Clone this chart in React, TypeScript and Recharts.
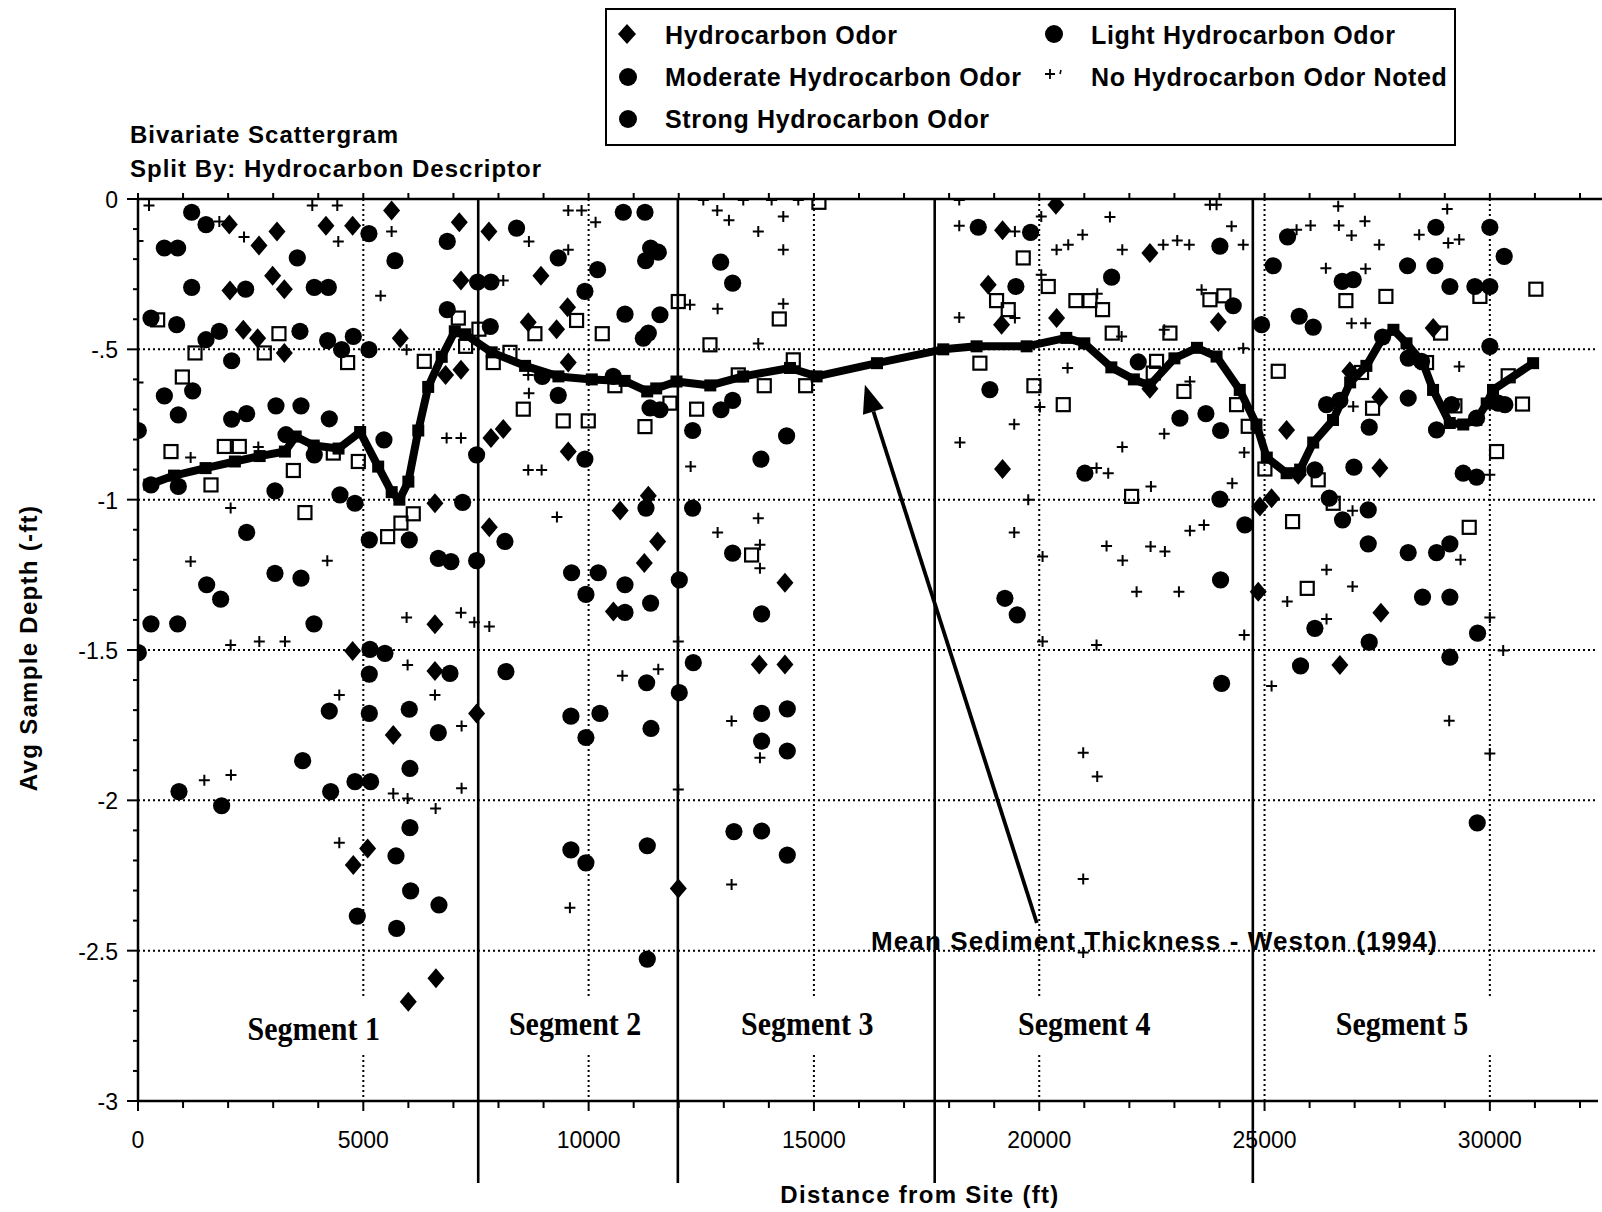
import React from "react";
import {
  ComposedChart,
  Scatter,
  Line,
  XAxis,
  YAxis,
  ReferenceLine,
} from "recharts";

const W = 1602;
const H = 1212;
const X_MAX = 32400;

// ---------- DATA ----------
const hydrocarbonOdor: [number, number][] = [
  [5628, -0.038], [2026, -0.085], [4171, -0.089], [4763, -0.089], [3084, -0.108], [2685, -0.155],
  [7130, -0.077], [7788, -0.108], [2988, -0.255], [3247, -0.3], [2041, -0.304], [7167, -0.271],
  [8942, -0.255], [9533, -0.36], [8660, -0.41], [9289, -0.433], [2337, -0.435], [2655, -0.463],
  [3247, -0.512], [5821, -0.463], [6826, -0.585], [7167, -0.568], [9548, -0.544], [7833, -0.795],
  [8106, -0.765], [9548, -0.84], [6590, -1.012], [7796, -1.092], [10700, -1.036], [6590, -1.414],
  [10550, -1.372], [11325, -0.987], [11532, -1.139], [11236, -1.211], [14357, -1.276],
  [19186, -0.104], [20370, -0.019], [18868, -0.285], [19164, -0.418], [20385, -0.396], [19186, -0.898],
  [4763, -1.503], [6590, -1.57], [7514, -1.711], [5665, -1.783], [5096, -2.16], [4778, -2.215],
  [6612, -2.592], [5998, -2.67], [13787, -1.548], [14357, -1.548], [11990, -2.293],
  [22456, -0.18], [23973, -0.409], [22456, -0.631], [28743, -0.429], [25489, -0.768], [27559, -0.659],
  [27559, -0.895], [26894, -0.573], [25748, -0.917], [25156, -0.995], [24897, -1.023], [24860, -1.306],
  [27582, -1.376], [26672, -1.55],
];

const lightOdor: [number, number][] = [
  [1191, -0.044], [1509, -0.085], [584, -0.163], [880, -0.163], [3535, -0.196], [5125, -0.115],
  [5702, -0.205], [6863, -0.141], [8401, -0.097], [9326, -0.196], [10199, -0.235],
  [1191, -0.294], [2389, -0.3], [3912, -0.294], [4223, -0.294], [7537, -0.276], [7833, -0.276], [9918, -0.307],
  [288, -0.396], [858, -0.418], [1509, -0.468], [1805, -0.44], [3594, -0.44], [4208, -0.471], [4519, -0.501],
  [4778, -0.457], [5125, -0.501], [2078, -0.538], [6863, -0.368], [7818, -0.424], [8972, -0.59], [9326, -0.653],
  [10546, -0.59], [585, -0.655], [1213, -0.638], [895, -0.718], [2078, -0.732], [2411, -0.714], [3062, -0.688],
  [3617, -0.688], [4245, -0.731],
  [10770, -0.044], [11251, -0.044], [11376, -0.163], [11546, -0.177], [11265, -0.205], [12929, -0.21],
  [13196, -0.28], [10807, -0.383], [11583, -0.385], [11325, -0.446], [11214, -0.463], [11362, -0.695],
  [11583, -0.701], [12937, -0.701], [13196, -0.67],
  [18647, -0.094], [19808, -0.111], [19482, -0.291], [21606, -0.26], [18905, -0.634],
  [24009, -0.157], [24305, -0.355], [24934, -0.418], [25193, -0.222], [25511, -0.126], [25770, -0.39],
  [26080, -0.426], [26724, -0.274], [26968, -0.268], [28173, -0.222], [28780, -0.222], [28802, -0.094],
  [30000, -0.094], [30318, -0.191], [29113, -0.291], [29668, -0.291], [30000, -0.291], [30000, -0.49],
  [22197, -0.542], [23122, -0.729], [23699, -0.714], [26376, -0.684], [26672, -0.67], [27619, -0.459],
  [28188, -0.529], [28484, -0.54], [28188, -0.662], [29150, -0.684], [29705, -0.729], [30185, -0.679],
  [30333, -0.684],
];

const moderateOdor: [number, number][] = [
  [7, -0.77], [3284, -0.784], [3912, -0.851], [5458, -0.801], [7514, -0.851], [9918, -0.865],
  [288, -0.951], [895, -0.956], [3040, -0.971], [4482, -0.984], [4815, -1.012], [7204, -1.009],
  [2411, -1.109], [5133, -1.134], [6020, -1.134], [6664, -1.195], [6945, -1.206], [7514, -1.203],
  [8143, -1.139], [3040, -1.245], [3617, -1.261], [1524, -1.283], [1834, -1.331], [9622, -1.243],
  [10214, -1.243], [9940, -1.315], [288, -1.413], [880, -1.413], [3905, -1.413],
  [12308, -0.77], [14394, -0.788], [13824, -0.865], [11273, -1.028], [12308, -1.028], [13196, -1.178],
  [10807, -1.283], [11376, -1.344], [10807, -1.375], [12012, -1.267], [13839, -1.38], [21013, -0.912],
  [19238, -1.328], [19512, -1.383],
  [24024, -0.77], [24009, -0.998], [24564, -1.084], [24024, -1.267], [27323, -0.759], [28817, -0.768],
  [26117, -0.901], [26983, -0.892], [26436, -0.995], [26731, -1.067], [27301, -1.034], [29409, -0.912],
  [29705, -0.925], [27301, -1.147], [28188, -1.176], [28817, -1.176], [29113, -1.147], [28506, -1.324],
  [29113, -1.324], [26117, -1.428], [29727, -1.444],
];

const strongOdor: [number, number][] = [
  [7, -1.509], [5148, -1.498], [5480, -1.511], [5133, -1.58], [6923, -1.578], [8165, -1.572],
  [4245, -1.703], [5133, -1.711], [6020, -1.697], [6664, -1.775], [9607, -1.72], [10251, -1.711],
  [9940, -1.791], [3654, -1.868], [6035, -1.894], [4815, -1.938], [5162, -1.938], [4275, -1.971],
  [910, -1.971], [1856, -2.018], [6035, -2.091], [5725, -2.185], [6050, -2.301], [6679, -2.348],
  [4867, -2.385], [5739, -2.426], [9607, -2.165], [9940, -2.208],
  [12323, -1.542], [11288, -1.609], [12012, -1.642], [11384, -1.761], [13839, -1.711], [14409, -1.696],
  [13839, -1.803], [14409, -1.836], [13225, -2.104], [13839, -2.102], [14409, -2.182], [11302, -2.151],
  [11302, -2.528],
  [27323, -1.474], [24047, -1.611], [25799, -1.553], [29113, -1.524], [29720, -2.075],
];

const noOdor: [number, number][] = [
  [244, -0.022], [3868, -0.022], [4423, -0.022], [1805, -0.075], [2353, -0.126], [4445, -0.141],
  [5628, -0.108], [5384, -0.322], [9548, -0.038], [9844, -0.038], [10155, -0.077], [8675, -0.141],
  [9548, -0.169], [8106, -0.271], [5961, -0.501], [1168, -0.86], [2670, -0.825], [8660, -0.585],
  [8675, -0.646], [6849, -0.795], [7167, -0.795], [8660, -0.901], [8957, -0.901], [2056, -1.028],
  [9297, -1.058], [1168, -1.206], [4201, -1.203], [5961, -1.392], [7167, -1.376], [7463, -1.408],
  [7796, -1.422], [2056, -1.483], [2692, -1.472], [3262, -1.472], [0, -0.14], [0, -0.61],
  [12855, -0.038], [13114, -0.071], [14320, -0.058], [13765, -0.108], [14320, -0.169], [12249, -0.352],
  [12863, -0.365], [14320, -0.348], [13765, -0.481], [12264, -0.89], [13765, -1.062], [12863, -1.109],
  [13802, -1.15], [13802, -1.228], [11990, -1.472], [18225, -0.003], [18225, -0.089], [19460, -0.108],
  [20045, -0.058], [20962, -0.119], [20385, -0.169], [20644, -0.152], [20045, -0.252], [18225, -0.394],
  [19460, -0.396], [21287, -0.315], [20629, -0.562], [20015, -0.692], [19445, -0.749], [18240, -0.81],
  [21272, -0.895], [21531, -0.912], [19756, -1.0], [19445, -1.109], [20074, -1.189], [21494, -1.154],
  [20074, -1.472], [21272, -1.483], [12545, -0.003], [13432, -0.003], [14061, -0.003], [14653, -0.003],
  [23788, -0.019], [23935, -0.019], [21569, -0.06], [24268, -0.091], [21843, -0.169], [22752, -0.152],
  [23063, -0.138], [23329, -0.152], [24527, -0.152], [23603, -0.302], [21828, -0.457], [22774, -0.435],
  [23344, -0.607], [24527, -0.496], [22774, -0.781], [21843, -0.825], [24549, -0.843], [22479, -0.956],
  [24283, -0.945], [23344, -1.103], [23655, -1.084], [22471, -1.156], [22789, -1.172], [21850, -1.202],
  [22161, -1.306], [23100, -1.306], [24549, -1.45], [26635, -0.024], [26021, -0.088], [26650, -0.088],
  [26931, -0.121], [27227, -0.074], [25711, -0.102], [29054, -0.033], [28432, -0.119], [29076, -0.146],
  [29320, -0.135], [27545, -0.152], [26361, -0.23], [27242, -0.232], [26931, -0.413], [27242, -0.413],
  [29320, -0.557], [26968, -0.69], [30000, -0.917], [26953, -1.037], [26376, -1.233], [26953, -1.289],
  [25504, -1.339], [26376, -1.397], [29350, -1.2], [30000, -1.392],
  [5983, -1.55], [4467, -1.65], [6590, -1.65], [7181, -1.753], [1472, -1.933], [2063, -1.916],
  [7181, -1.96], [5665, -1.977], [5983, -1.994], [6605, -2.027], [4467, -2.141], [9585, -2.357],
  [10750, -1.586], [11546, -1.564], [13173, -1.736], [13802, -1.858], [11990, -1.964], [13173, -2.28],
  [20976, -1.842], [21287, -1.921], [20976, -2.262], [20976, -2.506],
  [25156, -1.62], [30296, -1.502], [29098, -1.735], [30000, -1.844],
];

const openSquares: [number, number][] = [
  [436, -0.402], [1265, -0.512], [3128, -0.448], [2803, -0.512], [4652, -0.544], [984, -0.592],
  [732, -0.84], [1916, -0.823], [2248, -0.823], [1620, -0.951], [3447, -0.903], [4334, -0.845],
  [4889, -0.873], [3705, -1.043], [5540, -1.123], [5835, -1.078], [6109, -1.047], [6353, -0.54],
  [7108, -0.396], [7566, -0.433], [7270, -0.49], [7884, -0.544], [8254, -0.51], [8808, -0.448],
  [9733, -0.404], [10303, -0.448], [8550, -0.699], [9437, -0.738], [9992, -0.738], [10583, -0.621],
  [11990, -0.341], [12693, -0.485], [14231, -0.399], [15111, -0.011], [11805, -0.679], [12397, -0.699],
  [11251, -0.757], [13321, -0.585], [13898, -0.621], [14542, -0.535], [14816, -0.621], [13617, -1.184],
  [19645, -0.196], [20200, -0.291], [19053, -0.338], [19312, -0.368], [20814, -0.338], [21125, -0.338],
  [21405, -0.368], [18683, -0.546], [19882, -0.621], [20533, -0.684], [21620, -0.446],
  [22900, -0.446], [23788, -0.335], [24098, -0.322], [22604, -0.54], [22530, -0.579], [23211, -0.64],
  [24379, -0.684], [24638, -0.756], [22050, -0.989], [25304, -0.573], [25008, -0.898], [26191, -0.934],
  [26524, -1.012], [25622, -1.073], [26805, -0.338], [27693, -0.324], [28906, -0.446], [29779, -0.324],
  [31021, -0.3], [28595, -0.544], [27153, -0.577], [27397, -0.696], [29224, -0.688], [30407, -0.588],
  [30725, -0.682], [30149, -0.84], [29542, -1.092], [25947, -1.295],
];

const meanX = [
  250, 800, 1500, 2150, 2700, 3260, 3500, 3900, 4450, 4930, 5330, 5630, 5800, 6000, 6220, 6440, 6740,
  7030, 7260, 7850, 8590, 9330, 10070, 10800, 11300, 11500, 11950, 12700, 13430, 14470, 15060, 16400,
  17870, 18610, 19720, 20600, 21000, 21600, 22100, 22450, 23000, 23500, 23935, 24450, 24820, 25050,
  25490, 25790, 26080, 26520, 26900, 27260, 27630, 27860, 28150, 28520, 28740, 29110, 29410, 29700,
  29930, 30070, 30960,
];
const meanY = [
  -0.95, -0.92, -0.895, -0.873, -0.855, -0.84, -0.79, -0.82, -0.83, -0.775, -0.89, -0.975, -1.0, -0.94,
  -0.77, -0.625, -0.525, -0.44, -0.45, -0.51, -0.555, -0.59, -0.6, -0.605, -0.64, -0.63, -0.607, -0.62,
  -0.59, -0.562, -0.59, -0.546, -0.5, -0.49, -0.49, -0.462, -0.48, -0.56, -0.6, -0.62, -0.53, -0.495,
  -0.524, -0.635, -0.75, -0.86, -0.912, -0.9, -0.81, -0.735, -0.61, -0.555, -0.46, -0.435, -0.48, -0.546,
  -0.635, -0.745, -0.75, -0.735, -0.68, -0.635, -0.546,
];

const xTickValues = Array.from({ length: 33 }, (_, i) => i * 1000);
const yTickValues = Array.from({ length: 31 }, (_, i) => -i / 10);
const yTickLabels = ["0", "-.5", "-1", "-1.5", "-2", "-2.5", "-3"];
const hGrid = [-0.5, -1, -1.5, -2, -2.5];
const vGrid = [5000, 10000, 15000, 20000, 25000, 30000];
const segmentBounds = [7550, 11980, 17680, 24740];
const segmentLabels = ["Segment 1", "Segment 2", "Segment 3", "Segment 4", "Segment 5"];
const segmentLabelX = [3900, 9700, 14850, 21000, 28050];
const arrowFrom = { x: 19947, y: -2.408 };
const arrowTo = { x: 16131, y: -0.618 };

const toPts = (a: [number, number][]) => a.map(([x, y]) => ({ x, y }));
const meanData = meanX.map((x, i) => ({ x, y: meanY[i] }));

const SANS = "'Liberation Sans', Arial, Helvetica, sans-serif";
const SERIF = "'Liberation Serif', 'Times New Roman', serif";

// ---------- SHAPES ----------
const DiamondShape = (p: any) => {
  const { cx, cy } = p;
  if (cx == null || cy == null) return <g />;
  return (
    <polygon
      points={`${cx},${cy - 10} ${cx + 8.5},${cy} ${cx},${cy + 10} ${cx - 8.5},${cy}`}
      fill="#000"
    />
  );
};
const CircleShape = (p: any) => {
  const { cx, cy } = p;
  if (cx == null || cy == null) return <g />;
  return <circle cx={cx} cy={cy} r={8.6} fill="#000" />;
};
const CrossShape = (p: any) => {
  const { cx, cy } = p;
  if (cx == null || cy == null) return <g />;
  return (
    <path
      d={`M${cx - 5.5},${cy}H${cx + 5.5}M${cx},${cy - 5.5}V${cy + 5.5}`}
      stroke="#000"
      strokeWidth={2}
      fill="none"
    />
  );
};
const SquareShape = (p: any) => {
  const { cx, cy } = p;
  if (cx == null || cy == null) return <g />;
  return (
    <rect x={cx - 6.5} y={cy - 6.5} width={13} height={13} fill="none" stroke="#000" strokeWidth={2.2} />
  );
};
const MeanDot = (p: any) => {
  const { cx, cy, index } = p;
  if (cx == null || cy == null) return <g key={`md${index}`} />;
  return <rect key={`md${index}`} x={cx - 6} y={cy - 6} width={12} height={12} fill="#000" />;
};

// ---------- AXIS TICKS ----------
const XTick = (p: any) => {
  const { x, y, payload } = p;
  const v = payload.value;
  const major = v % 5000 === 0;
  return (
    <g>
      <line x1={x} y1={y} x2={x} y2={y + (major ? 10 : 7)} stroke="#000" strokeWidth={2} />
      {major && v <= 30000 && (
        <text x={x} y={y + 47} textAnchor="middle" fontSize={23} fontFamily={SANS} fill="#000">
          {v}
        </text>
      )}
    </g>
  );
};
const YTick = (p: any) => {
  const { x, y, payload } = p;
  const v = payload.value;
  const idx = Math.round(-v * 2);
  const major = Math.abs(-v * 2 - idx) < 1e-6;
  return (
    <g>
      <line x1={x - (major ? 11 : 5)} y1={y} x2={x} y2={y} stroke="#000" strokeWidth={2} />
      {major && (
        <text x={x - 20} y={y + 9} textAnchor="end" fontSize={23} fontFamily={SANS} fill="#000">
          {yTickLabels[idx]}
        </text>
      )}
    </g>
  );
};

// ---------- REFERENCE SHAPES ----------
const TopAxisShape = (p: any) => {
  const { x1, x2, y1 } = p;
  const per = (x2 - x1) / X_MAX;
  return (
    <g>
      <line x1={x1} y1={y1} x2={x2 + 4} y2={y1} stroke="#000" strokeWidth={2.5} />
      {xTickValues.map((v) => (
        <line key={v} x1={x1 + v * per} y1={y1} x2={x1 + v * per} y2={y1 - 6} stroke="#000" strokeWidth={2} />
      ))}
    </g>
  );
};
const SegmentLineShape = (p: any) => {
  const { x1, y1, y2 } = p;
  const top = Math.min(y1, y2);
  const bot = Math.max(y1, y2);
  return <line x1={x1} y1={top} x2={x1} y2={bot + 82} stroke="#000" strokeWidth={2.6} />;
};
const makeVGridShape = (gap: boolean) => (p: any) => {
  const { x1, y1, y2 } = p;
  const top = Math.min(y1, y2);
  const bot = Math.max(y1, y2);
  const common = { stroke: "#000", strokeWidth: 2, strokeDasharray: "2 3" };
  if (!gap) return <line x1={x1} y1={top} x2={x1} y2={bot} {...common} />;
  return (
    <g>
      <line x1={x1} y1={top} x2={x1} y2={bot - 103} {...common} />
      <line x1={x1} y1={bot - 46} x2={x1} y2={bot} {...common} />
    </g>
  );
};
const ArrowShape = (p: any) => {
  const { x1, y1, x2, y2 } = p;
  const dx = x2 - x1;
  const dy = y2 - y1;
  const len = Math.sqrt(dx * dx + dy * dy) || 1;
  const ux = dx / len;
  const uy = dy / len;
  const hl = 28;
  const hw = 11;
  const bx = x2 - ux * hl;
  const by = y2 - uy * hl;
  const nx = -uy;
  const ny = ux;
  return (
    <g>
      <line x1={x1} y1={y1} x2={bx} y2={by} stroke="#000" strokeWidth={3.8} />
      <polygon
        points={`${x2},${y2} ${bx + nx * hw},${by + ny * hw} ${bx - nx * hw},${by - ny * hw}`}
        fill="#000"
      />
    </g>
  );
};

// ---------- LEGEND ----------
const LegendBox = () => {
  const fs = 25;
  const t = (x: number, y: number, s: string) => (
    <text x={x} y={y} fontSize={fs} fontWeight="bold" fontFamily={SANS} letterSpacing={0.65} fill="#000">
      {s}
    </text>
  );
  return (
    <g>
      <rect x={606} y={9} width={849} height={136} fill="#fff" stroke="#000" strokeWidth={2} />
      <polygon points="627,24 636,34 627,44 618,34" fill="#000" />
      {t(665, 44, "Hydrocarbon Odor")}
      <circle cx={628} cy={77} r={9} fill="#000" />
      {t(665, 86, "Moderate Hydrocarbon Odor")}
      <circle cx={628} cy={119} r={9} fill="#000" />
      {t(665, 128, "Strong Hydrocarbon Odor")}
      <circle cx={1054} cy={34} r={9} fill="#000" />
      {t(1091, 44, "Light Hydrocarbon Odor")}
      <path d="M1045,74H1055M1050,69V79" stroke="#000" strokeWidth={1.8} />
      <line x1={1061} y1={70} x2={1060} y2={74} stroke="#000" strokeWidth={1.5} />
      {t(1091, 86, "No Hydrocarbon Odor Noted")}
    </g>
  );
};

export default function App() {
  return (
    <div style={{ position: "absolute", left: 0, top: 0, width: W, height: H, background: "#fff" }}>
      <ComposedChart
        width={W}
        height={H}
        margin={{ top: 199, right: 4, bottom: 0, left: 0 }}
      >
        <XAxis
          type="number"
          dataKey="x"
          domain={[0, X_MAX]}
          allowDataOverflow
          ticks={xTickValues}
          interval={0}
          height={111}
          tickSize={0}
          tickMargin={0}
          tick={XTick}
          tickLine={false}
          axisLine={{ stroke: "#000", strokeWidth: 2.5 }}
        />
        <YAxis
          type="number"
          dataKey="y"
          domain={[-3, 0]}
          allowDataOverflow
          ticks={yTickValues}
          interval={0}
          width={138}
          tickSize={0}
          tickMargin={0}
          tick={YTick}
          tickLine={false}
          axisLine={{ stroke: "#000", strokeWidth: 2.5 }}
        />
        {hGrid.map((v) => (
          <ReferenceLine key={`h${v}`} y={v} stroke="#000" strokeWidth={2} strokeDasharray="2 3" />
        ))}
        {vGrid.map((v) => (
          <ReferenceLine key={`v${v}`} x={v} shape={makeVGridShape(v !== 25000)} />
        ))}
        {segmentBounds.map((v) => (
          <ReferenceLine key={`s${v}`} x={v} shape={SegmentLineShape} />
        ))}
        <ReferenceLine y={0} shape={TopAxisShape} />
        <ReferenceLine segment={[arrowFrom, arrowTo]} shape={ArrowShape} ifOverflow="visible" />

        <Scatter
          name="Unlabeled"
          data={toPts(openSquares)}
          dataKey="y"
          shape={SquareShape}
          isAnimationActive={false}
          legendType="none"
        />
        <Line
          data={meanData}
          dataKey="y"
          stroke="#000"
          strokeWidth={8}
          strokeLinejoin="round"
          dot={MeanDot}
          activeDot={false}
          isAnimationActive={false}
          legendType="none"
        />
        <Scatter
          name="No Hydrocarbon Odor Noted"
          data={toPts(noOdor)}
          dataKey="y"
          shape={CrossShape}
          isAnimationActive={false}
        />
        <Scatter
          name="Hydrocarbon Odor"
          data={toPts(hydrocarbonOdor)}
          dataKey="y"
          shape={DiamondShape}
          isAnimationActive={false}
        />
        <Scatter
          name="Light Hydrocarbon Odor"
          data={toPts(lightOdor)}
          dataKey="y"
          shape={CircleShape}
          isAnimationActive={false}
        />
        <Scatter
          name="Moderate Hydrocarbon Odor"
          data={toPts(moderateOdor)}
          dataKey="y"
          shape={CircleShape}
          isAnimationActive={false}
        />
        <Scatter
          name="Strong Hydrocarbon Odor"
          data={toPts(strongOdor)}
          dataKey="y"
          shape={CircleShape}
          isAnimationActive={false}
        />
      </ComposedChart>
      <svg
        width={W}
        height={H}
        style={{ position: "absolute", left: 0, top: 0, pointerEvents: "none" }}
      >
        <LegendBox />
        <text x={130} y={143} fontSize={24} fontWeight="bold" fontFamily={SANS} letterSpacing={1} fill="#000">
          Bivariate Scattergram
        </text>
        <text x={130} y={177} fontSize={24} fontWeight="bold" fontFamily={SANS} letterSpacing={1} fill="#000">
          Split By: Hydrocarbon Descriptor
        </text>
        <text
          x={0}
          y={0}
          transform="translate(37,648) rotate(-90)"
          textAnchor="middle"
          fontSize={24}
          fontWeight="bold"
          fontFamily={SANS}
          letterSpacing={1.3}
          fill="#000"
        >
          Avg Sample Depth (-ft)
        </text>
        <text x={920} y={1203} textAnchor="middle" fontSize={24} fontWeight="bold" fontFamily={SANS} letterSpacing={1.3} fill="#000">
          Distance from Site (ft)
        </text>
        <text x={871} y={950} fontSize={26} fontWeight="bold" fontFamily={SANS} letterSpacing={1.1} fill="#000">
          Mean Sediment Thickness - Weston (1994)
        </text>
        {segmentLabels.map((s, i) => (
          <text
            key={s}
            x={0}
            y={0}
            transform={`translate(${138 + (segmentLabelX[i] * 1460) / X_MAX},${i === 0 ? 1040 : 1035}) scale(1,1.15)`}
            textAnchor="middle"
            fontSize={30}
            fontWeight="bold"
            fontFamily={SERIF}
            fill="#000"
          >
            {s}
          </text>
        ))}
      </svg>
    </div>
  );
}
